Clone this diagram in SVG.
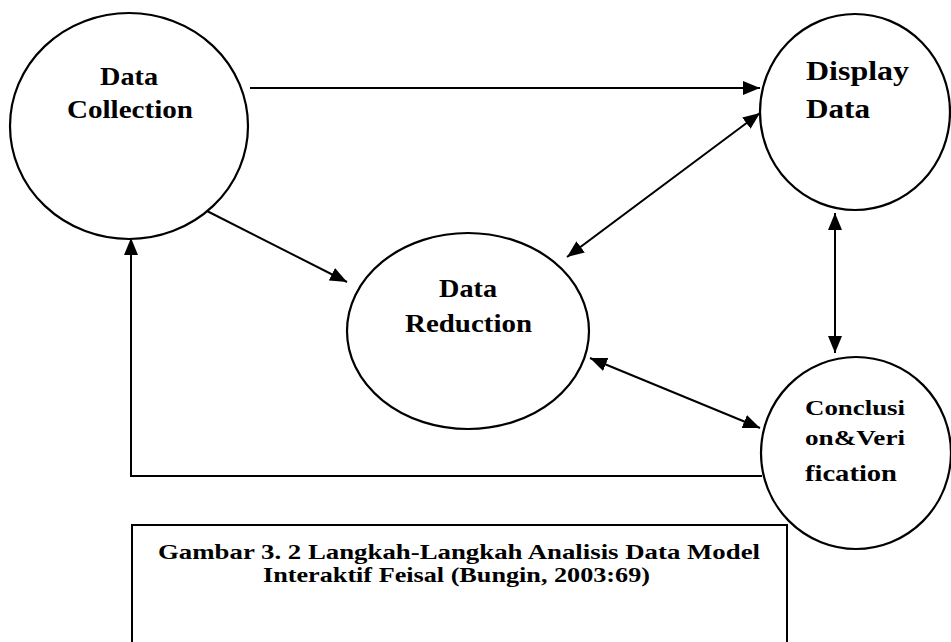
<svg xmlns="http://www.w3.org/2000/svg" width="951" height="642" viewBox="0 0 951 642">
<defs>
<marker id="ah" markerWidth="17" markerHeight="14" refX="17" refY="7" orient="auto-start-reverse" markerUnits="userSpaceOnUse">
<path d="M0,0 L17,7 L0,14 Z" fill="#000"/>
</marker>
<style>
.node{fill:#fff;stroke:#000;stroke-width:2.2}
.lbl{font-family:"Liberation Serif","Times New Roman",serif;font-weight:bold;fill:#000}
.conn{fill:none;stroke:#000;stroke-width:2}
.cap{font-family:"Liberation Serif","Times New Roman",serif;font-size:22px;fill:#000}
</style>
</defs>
<rect width="951" height="642" fill="#fff"/>
<g id="connectors">
<line class="conn" x1="250" y1="88" x2="760" y2="88" marker-end="url(#ah)"/>
<line class="conn" x1="567" y1="257" x2="760" y2="113" marker-start="url(#ah)" marker-end="url(#ah)"/>
<line class="conn" x1="205" y1="210" x2="347" y2="282" marker-end="url(#ah)"/>
<line class="conn" x1="590" y1="358" x2="760" y2="428" marker-start="url(#ah)" marker-end="url(#ah)"/>
<line class="conn" x1="835" y1="213" x2="835" y2="353" marker-start="url(#ah)" marker-end="url(#ah)"/>
<polyline class="conn" points="762,476 131,476 131,238" marker-end="url(#ah)"/>
</g>
<g id="data-collection">
<ellipse class="node" cx="129" cy="126" rx="119" ry="113"/>
<text class="lbl" x="100" y="85" font-size="25" textLength="58" lengthAdjust="spacingAndGlyphs">Data</text>
<text class="lbl" x="67" y="118" font-size="25" textLength="126" lengthAdjust="spacingAndGlyphs">Collection</text>
</g>
<g id="display-data">
<ellipse class="node" cx="855" cy="112" rx="95" ry="98"/>
<text class="lbl" x="806" y="80" font-size="27" textLength="103" lengthAdjust="spacingAndGlyphs">Display</text>
<text class="lbl" x="806" y="118" font-size="27" textLength="64" lengthAdjust="spacingAndGlyphs">Data</text>
</g>
<g id="data-reduction">
<ellipse class="node" cx="468" cy="331" rx="121" ry="98"/>
<text class="lbl" x="439" y="297" font-size="25" textLength="58" lengthAdjust="spacingAndGlyphs">Data</text>
<text class="lbl" x="405" y="332" font-size="25" textLength="127" lengthAdjust="spacingAndGlyphs">Reduction</text>
</g>
<g id="conclusion-verification">
<ellipse class="node" cx="856" cy="453" rx="95" ry="96"/>
<text class="lbl" x="805" y="415" font-size="22" textLength="100" lengthAdjust="spacingAndGlyphs">Conclusi</text>
<text class="lbl" x="805" y="445" font-size="22" textLength="100" lengthAdjust="spacingAndGlyphs">on&amp;Veri</text>
<text class="lbl" x="805" y="481" font-size="24" textLength="92" lengthAdjust="spacingAndGlyphs">fication</text>
</g>
<g id="caption">
<rect x="132" y="525" width="655" height="140" fill="none" stroke="#000" stroke-width="2"/>
<text class="cap" x="158" y="559" textLength="602" lengthAdjust="spacingAndGlyphs" font-weight="bold">Gambar 3. 2 Langkah-Langkah Analisis Data  Model</text>
<text class="cap" x="263" y="582" textLength="387" lengthAdjust="spacingAndGlyphs" font-weight="bold">Interaktif Feisal (Bungin, 2003:69)</text>
</g>
</svg>
